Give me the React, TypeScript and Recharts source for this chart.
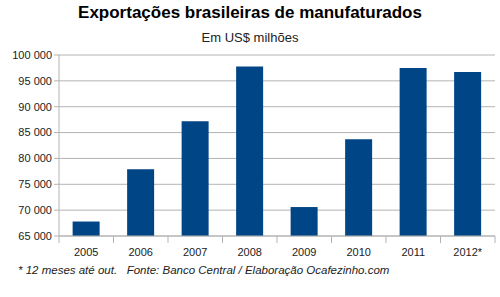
import { Bar, BarChart, CartesianGrid, XAxis, YAxis } from "recharts";

const years = ["2005", "2006", "2007", "2008", "2009", "2010", "2011", "2012*"];
const exports_ = [67800, 77900, 87200, 97800, 70600, 83700, 97500, 96700];
const yTicks = [65000, 70000, 75000, 80000, 85000, 90000, 95000, 100000];

const data = years.map((y, i) => ({ year: y, value: exports_[i] }));

const font = "'Liberation Sans', Arial, sans-serif";

const fmt = (v: number) => {
  const s = String(v);
  return s.slice(0, s.length - 3) + " " + s.slice(-3);
};

const XTick = (props: any) => {
  const { x, y, payload } = props;
  const half = payload && payload.offset ? payload.offset : 27.25;
  return (
    <g>
      <line x1={x - half} y1={y - 8} x2={x - half} y2={y - 1} stroke="#b3b3b3" />
      {payload.index === years.length - 1 && (
        <line x1={x + half} y1={y - 8} x2={x + half} y2={y - 1} stroke="#b3b3b3" />
      )}
      <text x={x} y={y + 12} textAnchor="middle" fill="#222" fontSize={11} fontFamily={font}>
        {payload.value}
      </text>
    </g>
  );
};

export default function App() {
  return (
    <div style={{ position: "absolute", left: 0, top: 0, width: 500, height: 297, background: "#fff", fontFamily: font }}>
      <div style={{ position: "absolute", top: 3, width: 500, textAlign: "center", fontSize: 17, fontWeight: "bold", color: "#000" }}>
        Exportações brasileiras de manufaturados
      </div>
      <div style={{ position: "absolute", top: 30, width: 500, textAlign: "center", fontSize: 13, color: "#222" }}>
        Em US$ milhões
      </div>
      <BarChart
        width={500}
        height={297}
        data={data}
        barCategoryGap="25%"
        margin={{ top: 55, right: 5, left: 0, bottom: 0 }}
      >
        <CartesianGrid vertical={false} stroke="#b3b3b3" />
        <XAxis
          dataKey="year"
          height={61}
          tickLine={false}
          axisLine={{ stroke: "#b3b3b3" }}
          tick={<XTick />}
          interval={0}
        />
        <YAxis
          width={59}
          domain={[65000, 100000]}
          ticks={yTicks}
          tickFormatter={fmt}
          axisLine={{ stroke: "#b3b3b3" }}
          tickLine={{ stroke: "#b3b3b3" }}
          tickSize={5}
          tick={{ fill: "#222", fontSize: 11, fontFamily: font }}
          allowDataOverflow
        />
        <Bar dataKey="value" fill="#004586" isAnimationActive={false} />
      </BarChart>
      <div style={{ position: "absolute", top: 264, left: 18, fontSize: 11.5, fontStyle: "italic", color: "#222", whiteSpace: "pre" }}>
        {"* 12 meses até out.   Fonte: Banco Central / Elaboração Ocafezinho.com"}
      </div>
    </div>
  );
}
